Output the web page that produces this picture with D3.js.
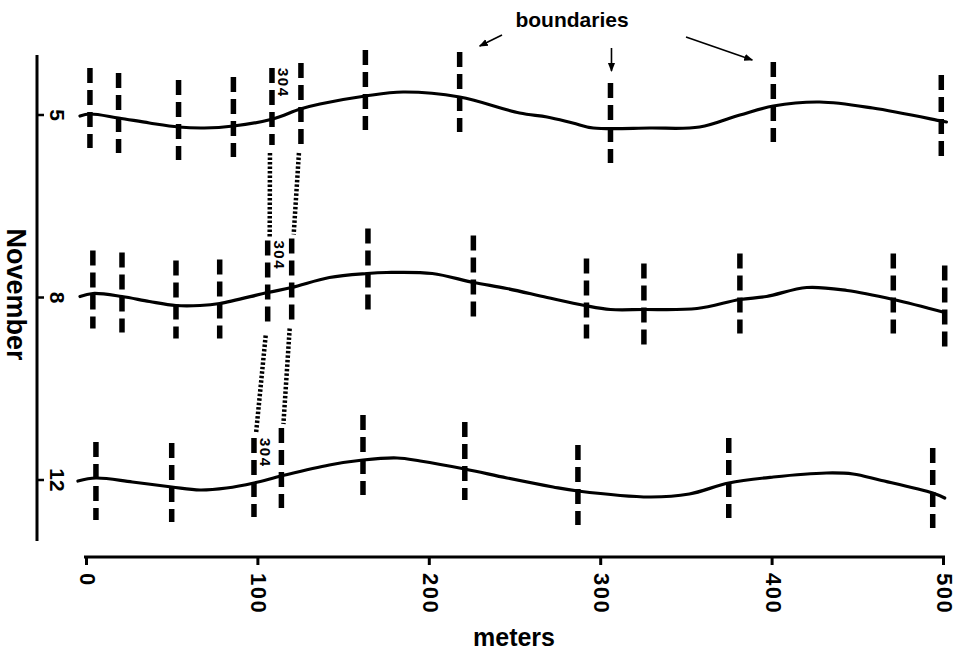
<!DOCTYPE html>
<html>
<head>
<meta charset="utf-8">
<script src="https://cdn.jsdelivr.net/npm/d3@7"></script>
<style>
  html, body { margin: 0; padding: 0; background: #fff; }
  svg { display: block; }
  text { font-family: "Liberation Sans", Arial, Helvetica, sans-serif; fill: #000; }
</style>
</head>
<body>
<svg id="chart" width="961" height="654"></svg>
<script>
// ---------------- DATA ----------------
const rowLabels = ["5", "8", "12"];
const xTicks = [0, 100, 200, 300, 400, 500];
const xLabel = "meters";
const yLabel = "November";
const annotation = "boundaries";
const buoyLabel = "304";

// profile curves: [meters, relative level]
const curve5 = [[-3.5,-1],[2.3,1],[19,-3],[37,-8],[54,-12],[69,-13],[86,-11],[109,-4],[125,6],[136.5,11],[163,19],[185,23],[218,18],[253,2],[269,-2],[284,-8],[296,-13],[329,-13],[358,-12],[381.5,0],[401,9],[428,13],[459,7],[499,-6],[502,-7]];
const curve8 = [[-3.5,1],[4,4],[21,1],[37,-4],[52.5,-8],[66.5,-8],[78,-6],[106,5],[120,10],[142,20],[164,24],[175.5,25],[202,24],[226,15],[245.5,9],[269,0],[291,-8],[306,-12],[325,-12],[356.5,-11],[381.5,-2],[397,1],[420.5,10],[444,7],[471,-2],[501,-15]];
const curve12 = [[-4.7,-1],[5.8,2],[27,-2],[50,-7],[66.5,-10],[82,-8],[98,-3],[114,4],[142,15],[161.6,20],[181.5,22],[195,19],[221,11],[245.6,2],[272.5,-7],[287,-11],[329,-17],[352,-14],[375,-3],[401,3],[432,7],[447.5,6],[463,0],[494,-13],[501,-18]];

// boundary marks: [meters, top level, bottom level]
const bars5 = [[2.3,47,-33],[19,42,-38],[54,35,-45],[86,38,-42],[108.5,47,-30],[125.4,52,-30],[163,65,-15],[218,63,-17],[306,32,-48],[401,53,-27],[499,40,-42]];
const bars8 = [[4,47,-31],[21,45,-35],[52.5,37,-41],[78,38,-41],[106,57,-30],[120,59,-23],[164.5,69,-13],[226,62,-21],[292,39,-41],[325.5,34,-48],[381.5,44,-36],[471,44,-36],[501,32,-50]];
const bars12 = [[5.8,38,-40],[50,37,-42],[98,42,-37],[114,52,-28],[161.6,65,-15],[221,58,-20],[287,35,-45],[375,42,-38],[494,32,-48]];

// index of the "304" boundary in each row, and its partner
const buoyIndex = [4, 4, 2];
const partnerIndex = [5, 5, 3];

// boundaries pointed at by the annotation (row 5): meters
const pointed = [218, 306, 401];

// ---------------- CHART ----------------
const svg = d3.select("#chart");
const x = d3.scaleLinear().domain([0, 500]).range([86, 943]);
const rowY = d3.scalePoint().domain(rowLabels).range([115, 480]);
const yFor = r => d3.scaleLinear().domain([-60, 60]).range([rowY(r) + 60, rowY(r) - 60]);

const rows = [
  { label: "5", curve: curve5, bars: bars5 },
  { label: "8", curve: curve8, bars: bars8 },
  { label: "12", curve: curve12, bars: bars12 }
];

// left vertical axis
svg.append("line").attr("x1", 37).attr("x2", 37).attr("y1", 55).attr("y2", 541)
  .attr("stroke", "#000").attr("stroke-width", 3);
rows.forEach(r => {
  svg.append("line").attr("x1", 37).attr("x2", 44)
    .attr("y1", rowY(r.label)).attr("y2", rowY(r.label))
    .attr("stroke", "#000").attr("stroke-width", 2.5);
  svg.append("text")
    .attr("transform", `translate(57,${rowY(r.label)}) rotate(90)`)
    .attr("text-anchor", "middle").attr("dominant-baseline", "central")
    .attr("font-size", 21).attr("font-weight", "bold").text(r.label);
});
svg.append("text")
  .attr("transform", `translate(16,${rowY("8") - 3}) rotate(90)`)
  .attr("text-anchor", "middle").attr("dominant-baseline", "central")
  .attr("font-size", 27).attr("font-weight", "bold").text(yLabel);

// x axis
const xAxis = d3.axisBottom(x).tickValues(xTicks).tickSize(8).tickSizeOuter(0).tickFormat(d3.format("d"));
const gx = svg.append("g").attr("transform", "translate(0,557)").call(xAxis);
gx.select(".domain").attr("stroke", "#000").attr("stroke-width", 3).attr("d", `M${x(0) - 2},0H${x(500) + 2}`);
gx.selectAll(".tick line").attr("stroke", "#000").attr("stroke-width", 3);
gx.selectAll(".tick text")
  .attr("y", 0).attr("dy", null)
  .attr("transform", "translate(1,16) rotate(90)")
  .attr("text-anchor", "start").attr("dominant-baseline", "central")
  .attr("font-size", 22).attr("font-weight", "bold").attr("letter-spacing", 1.5)
  .attr("font-family", "Liberation Sans, Arial, sans-serif").attr("fill", "#000");
svg.append("text").attr("x", 514).attr("y", 646).attr("text-anchor", "middle")
  .attr("font-size", 25).attr("font-weight", "bold").text(xLabel);

// profiles and boundaries
const barPos = [];
rows.forEach((r, i) => {
  const y = yFor(r.label);
  const line = d3.line().x(d => x(d[0])).y(d => y(d[1])).curve(d3.curveCatmullRom.alpha(0.5));
  svg.append("path").attr("d", line(r.curve)).attr("fill", "none")
    .attr("stroke", "#000").attr("stroke-width", 3.2).attr("stroke-linecap", "round");
  svg.append("g").selectAll("line").data(r.bars).join("line")
    .attr("x1", d => x(d[0])).attr("x2", d => x(d[0]))
    .attr("y1", d => y(d[1])).attr("y2", d => y(d[2]))
    .attr("stroke", "#000").attr("stroke-width", 5.5)
    .attr("stroke-dasharray", "15,7");
  barPos.push(r.bars.map(d => ({ x: x(d[0]), top: y(d[1]), bottom: y(d[2]) })));
  // 304 label
  const b = barPos[i][buoyIndex[i]];
  svg.append("text")
    .attr("transform", `translate(${b.x + 12},${b.top}) rotate(90)`)
    .attr("text-anchor", "start").attr("dominant-baseline", "central")
    .attr("font-size", 15).attr("font-weight", "bold").attr("letter-spacing", 1.5).text(buoyLabel);
});

// dotted tracking lines between rows
const links = [];
for (let i = 0; i < 2; i++) {
  [buoyIndex, partnerIndex].forEach(idx => {
    const a = barPos[i][idx[i]], b = barPos[i + 1][idx[i + 1]];
    links.push([[a.x - 2, a.bottom + 8], [b.x + 2, b.top - 4]]);
  });
}
svg.append("g").selectAll("line").data(links).join("line")
  .attr("x1", d => d[0][0]).attr("y1", d => d[0][1])
  .attr("x2", d => d[1][0]).attr("y2", d => d[1][1])
  .attr("stroke", "#000").attr("stroke-width", 4.5).attr("stroke-dasharray", "2.5,2");

// annotation
svg.append("text").attr("x", 572).attr("y", 27).attr("text-anchor", "middle")
  .attr("font-size", 21).attr("font-weight", "bold").text(annotation);
const defs = svg.append("defs");
defs.append("marker").attr("id", "ah").attr("viewBox", "0 0 10 10")
  .attr("refX", 9).attr("refY", 5).attr("markerWidth", 9).attr("markerHeight", 9)
  .attr("markerUnits", "userSpaceOnUse").attr("orient", "auto")
  .append("path").attr("d", "M0,1L10,5L0,9Z").attr("fill", "#000");
const arrows = [
  [[502, 35], [x(pointed[0]) + 20, 46]],
  [[x(pointed[1]) + 1, 48], [x(pointed[1]) + 1, 71]],
  [[686, 37], [x(pointed[2]) - 21, 60]]
];
svg.append("g").selectAll("line").data(arrows).join("line")
  .attr("x1", d => d[0][0]).attr("y1", d => d[0][1])
  .attr("x2", d => d[1][0]).attr("y2", d => d[1][1])
  .attr("stroke", "#000").attr("stroke-width", 1.6).attr("marker-end", "url(#ah)");
</script>
</body>
</html>
